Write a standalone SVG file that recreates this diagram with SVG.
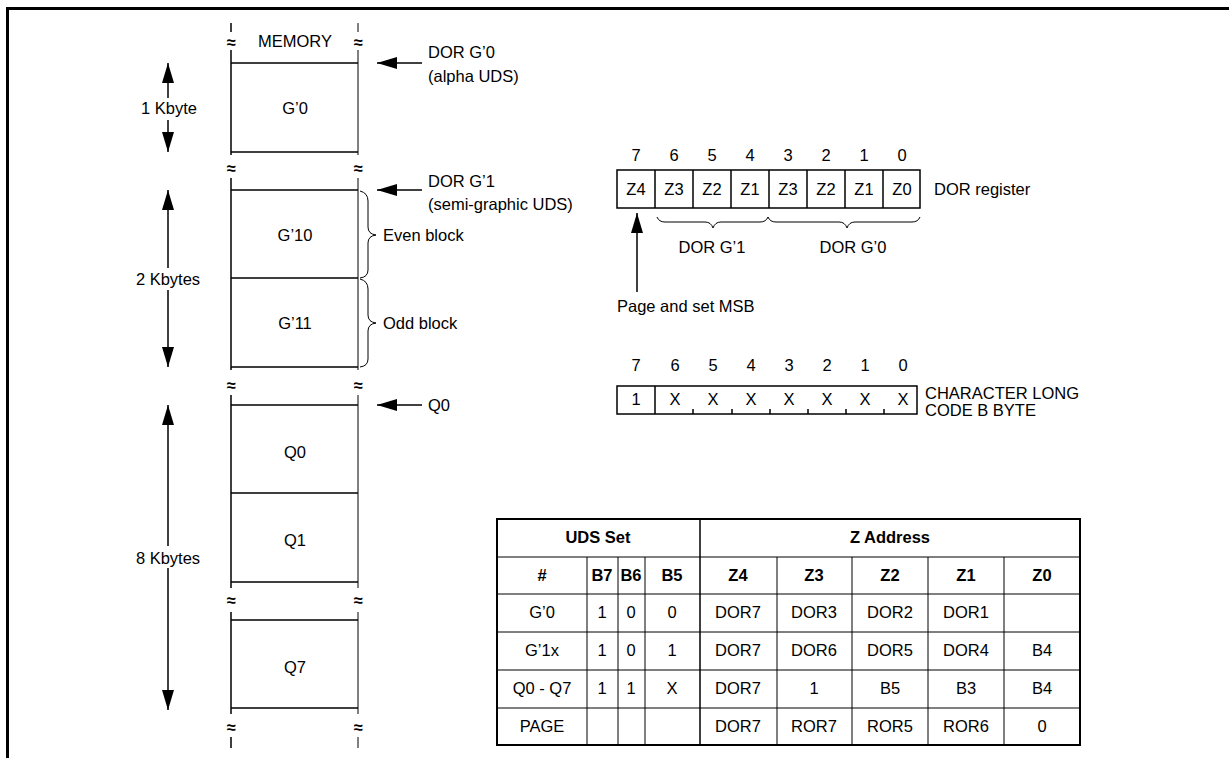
<svg xmlns="http://www.w3.org/2000/svg" width="1229" height="758" viewBox="0 0 1229 758">
<defs>
<style>
text{font-family:"Liberation Sans",Arial,sans-serif;font-size:16.5px;fill:#000}
.m{text-anchor:middle}
.b{font-weight:bold}
.t{font-size:15.5px}
.ln{stroke:#000;stroke-width:1.5;fill:none}
.thin{stroke:#000;stroke-width:1;fill:none}
.wave{font-size:19px;text-anchor:middle;font-weight:bold}
</style>
<marker id="ah" markerWidth="20" markerHeight="12" refX="20" refY="6" orient="auto-start-reverse" markerUnits="userSpaceOnUse"><path d="M0,0 L20,6 L0,12 z" fill="#000"/></marker>
</defs>
<rect width="1229" height="758" fill="#fff"/>
<g id="frame"><path d="M7.5,758 V8.5 H1229" stroke="#000" stroke-width="3" fill="none"/></g>

<g id="memory">
<path class="ln" d="M231,23 V32 M231,50 V155 M231,178 V370 M231,395 V588 M231,612 V714 M231,737 V748"/>
<path class="thin" d="M358,23 V32 M358,50 V155 M358,178 V370 M358,395 V588 M358,612 V714 M358,737 V748"/>
<g class="wave"><text x="231" y="48">≈</text><text x="358" y="48">≈</text>
<text x="231" y="174">≈</text><text x="358" y="174">≈</text>
<text x="231" y="391">≈</text><text x="358" y="391">≈</text>
<text x="231" y="606">≈</text><text x="358" y="606">≈</text>
<text x="231" y="733">≈</text><text x="358" y="733">≈</text></g>
<text class="m" x="295" y="47">MEMORY</text>
</g>
<g id="g0"><path class="ln" d="M231,63 H358 M231,152 H358"/><text class="m" x="295" y="114">G’0</text></g>
<g id="g10"><path class="ln" d="M231,190 H358"/><text class="m" x="295" y="241">G’10</text></g>
<g id="g11"><path class="ln" d="M231,278 H358 M231,367 H358"/><text class="m" x="295" y="329">G’11</text></g>
<g id="q0"><path class="ln" d="M231,405 H358"/><text class="m" x="295" y="458">Q0</text></g>
<g id="q1"><path class="ln" d="M231,493 H358 M231,582 H358"/><text class="m" x="295" y="546">Q1</text></g>
<g id="q7"><path class="ln" d="M231,620 H358 M231,708 H358"/><text class="m" x="295" y="673">Q7</text></g>

<g id="braces">
<path class="thin" d="M360,191 Q368,193 368,201 L368,227 Q368,234 376,235 Q368,236 368,243 L368,270 Q368,277 360,278"/>
<path class="thin" d="M360,279 Q368,281 368,289 L368,315 Q368,322 376,323 Q368,324 368,331 L368,359 Q368,366 360,367"/>
<text x="383" y="241">Even block</text>
<text x="383" y="329">Odd block</text>
</g>

<g id="connectors">
<line class="ln" x1="168" y1="152" x2="168" y2="63" marker-end="url(#ah)" marker-start="url(#ah)"/>
<line class="ln" x1="168" y1="367" x2="168" y2="190" marker-end="url(#ah)" marker-start="url(#ah)"/>
<line class="ln" x1="168" y1="710" x2="168" y2="405" marker-end="url(#ah)" marker-start="url(#ah)"/>
<line class="ln" x1="422" y1="63" x2="377" y2="63" marker-end="url(#ah)"/>
<line class="ln" x1="422" y1="190" x2="377" y2="190" marker-end="url(#ah)"/>
<line class="ln" x1="422" y1="405" x2="377" y2="405" marker-end="url(#ah)"/>
<line class="ln" x1="637" y1="292" x2="637" y2="213" marker-end="url(#ah)"/>
</g>

<g id="sizes">
<rect x="130" y="98" width="76" height="22" fill="#fff"/><text class="m" x="169" y="114">1 Kbyte</text>
<rect x="122" y="268" width="92" height="22" fill="#fff"/><text class="m" x="168" y="285">2 Kbytes</text>
<rect x="122" y="546" width="92" height="22" fill="#fff"/><text class="m" x="168" y="564">8 Kbytes</text>
</g>

<g id="pointers">
<text x="428" y="58">DOR G’0</text><text x="428" y="82">(alpha UDS)</text>
<text x="428" y="187">DOR G’1</text><text x="428" y="210">(semi-graphic UDS)</text>
<text x="428" y="411">Q0</text>
</g>

<g id="dor-register">
<g class="m"><text x="636" y="161">7</text><text x="674" y="161">6</text><text x="712" y="161">5</text><text x="750" y="161">4</text><text x="788" y="161">3</text><text x="826" y="161">2</text><text x="864" y="161">1</text><text x="902" y="161">0</text></g>
<rect class="ln" x="617" y="170" width="303" height="38"/>
<path class="ln" d="M655,170 V208 M693,170 V208 M731,170 V208 M769,170 V208 M807,170 V208 M845,170 V208 M883,170 V208"/>
<g class="m"><text x="636" y="195">Z4</text><text x="674" y="195">Z3</text><text x="712" y="195">Z2</text><text x="750" y="195">Z1</text><text x="788" y="195">Z3</text><text x="826" y="195">Z2</text><text x="864" y="195">Z1</text><text x="902" y="195">Z0</text></g>
<text x="934" y="195">DOR register</text>
<path class="thin" d="M657,217 Q659,222 665,222 L705,222 Q711,222 713,228 Q715,222 721,222 L760,222 Q766,222 768,217 Q770,222 776,222 L839,222 Q845,222 847,228 Q849,222 855,222 L912,222 Q918,222 920,217"/>
<text class="m" x="712" y="253">DOR G’1</text>
<text class="m" x="853" y="253">DOR G’0</text>
<text x="617" y="312">Page and set MSB</text>
</g>

<g id="char-code">
<g class="m"><text x="636" y="371">7</text><text x="675" y="371">6</text><text x="713" y="371">5</text><text x="751" y="371">4</text><text x="789" y="371">3</text><text x="827" y="371">2</text><text x="865" y="371">1</text><text x="903" y="371">0</text></g>
<rect class="ln" x="617" y="386" width="300" height="28"/>
<path class="ln" d="M655,386 V414 M693,409 V414 M732,409 V414 M770,409 V414 M808,409 V414 M846,409 V414 M884,409 V414"/>
<g class="m"><text x="636" y="405">1</text><text x="675" y="405">X</text><text x="713" y="405">X</text><text x="751" y="405">X</text><text x="789" y="405">X</text><text x="827" y="405">X</text><text x="865" y="405">X</text><text x="903" y="405">X</text></g>
<text x="925" y="399">CHARACTER LONG</text>
<text x="925" y="416">CODE B BYTE</text>
</g>

<g id="table">
<rect x="497" y="519" width="583" height="226" stroke="#000" stroke-width="2" fill="none"/>
<path class="thin" d="M497,557 H1080 M497,594 H1080 M497,632 H1080 M497,670 H1080 M497,708 H1080"/>
<path class="ln" d="M700,519 V745"/>
<path class="thin" d="M587,557 V745 M618,557 V745 M645,557 V745 M777,557 V745 M852,557 V745 M928,557 V745 M1004,557 V745"/>
<g class="m t">
<text class="b" x="598" y="543">UDS Set</text><text class="b" x="890" y="543">Z Address</text>
<text class="b" x="542" y="581">#</text><text class="b" x="602" y="581">B7</text><text class="b" x="631" y="581">B6</text><text class="b" x="672" y="581">B5</text><text class="b" x="738" y="581">Z4</text><text class="b" x="814" y="581">Z3</text><text class="b" x="890" y="581">Z2</text><text class="b" x="966" y="581">Z1</text><text class="b" x="1042" y="581">Z0</text>
<text x="542" y="618">G’0</text><text x="602" y="618">1</text><text x="631" y="618">0</text><text x="672" y="618">0</text><text x="738" y="618">DOR7</text><text x="814" y="618">DOR3</text><text x="890" y="618">DOR2</text><text x="966" y="618">DOR1</text>
<text x="542" y="656">G’1x</text><text x="602" y="656">1</text><text x="631" y="656">0</text><text x="672" y="656">1</text><text x="738" y="656">DOR7</text><text x="814" y="656">DOR6</text><text x="890" y="656">DOR5</text><text x="966" y="656">DOR4</text><text x="1042" y="656">B4</text>
<text x="542" y="694">Q0 - Q7</text><text x="602" y="694">1</text><text x="631" y="694">1</text><text x="672" y="694">X</text><text x="738" y="694">DOR7</text><text x="814" y="694">1</text><text x="890" y="694">B5</text><text x="966" y="694">B3</text><text x="1042" y="694">B4</text>
<text x="542" y="732">PAGE</text><text x="738" y="732">DOR7</text><text x="814" y="732">ROR7</text><text x="890" y="732">ROR5</text><text x="966" y="732">ROR6</text><text x="1042" y="732">0</text>
</g>
</g>
</svg>
